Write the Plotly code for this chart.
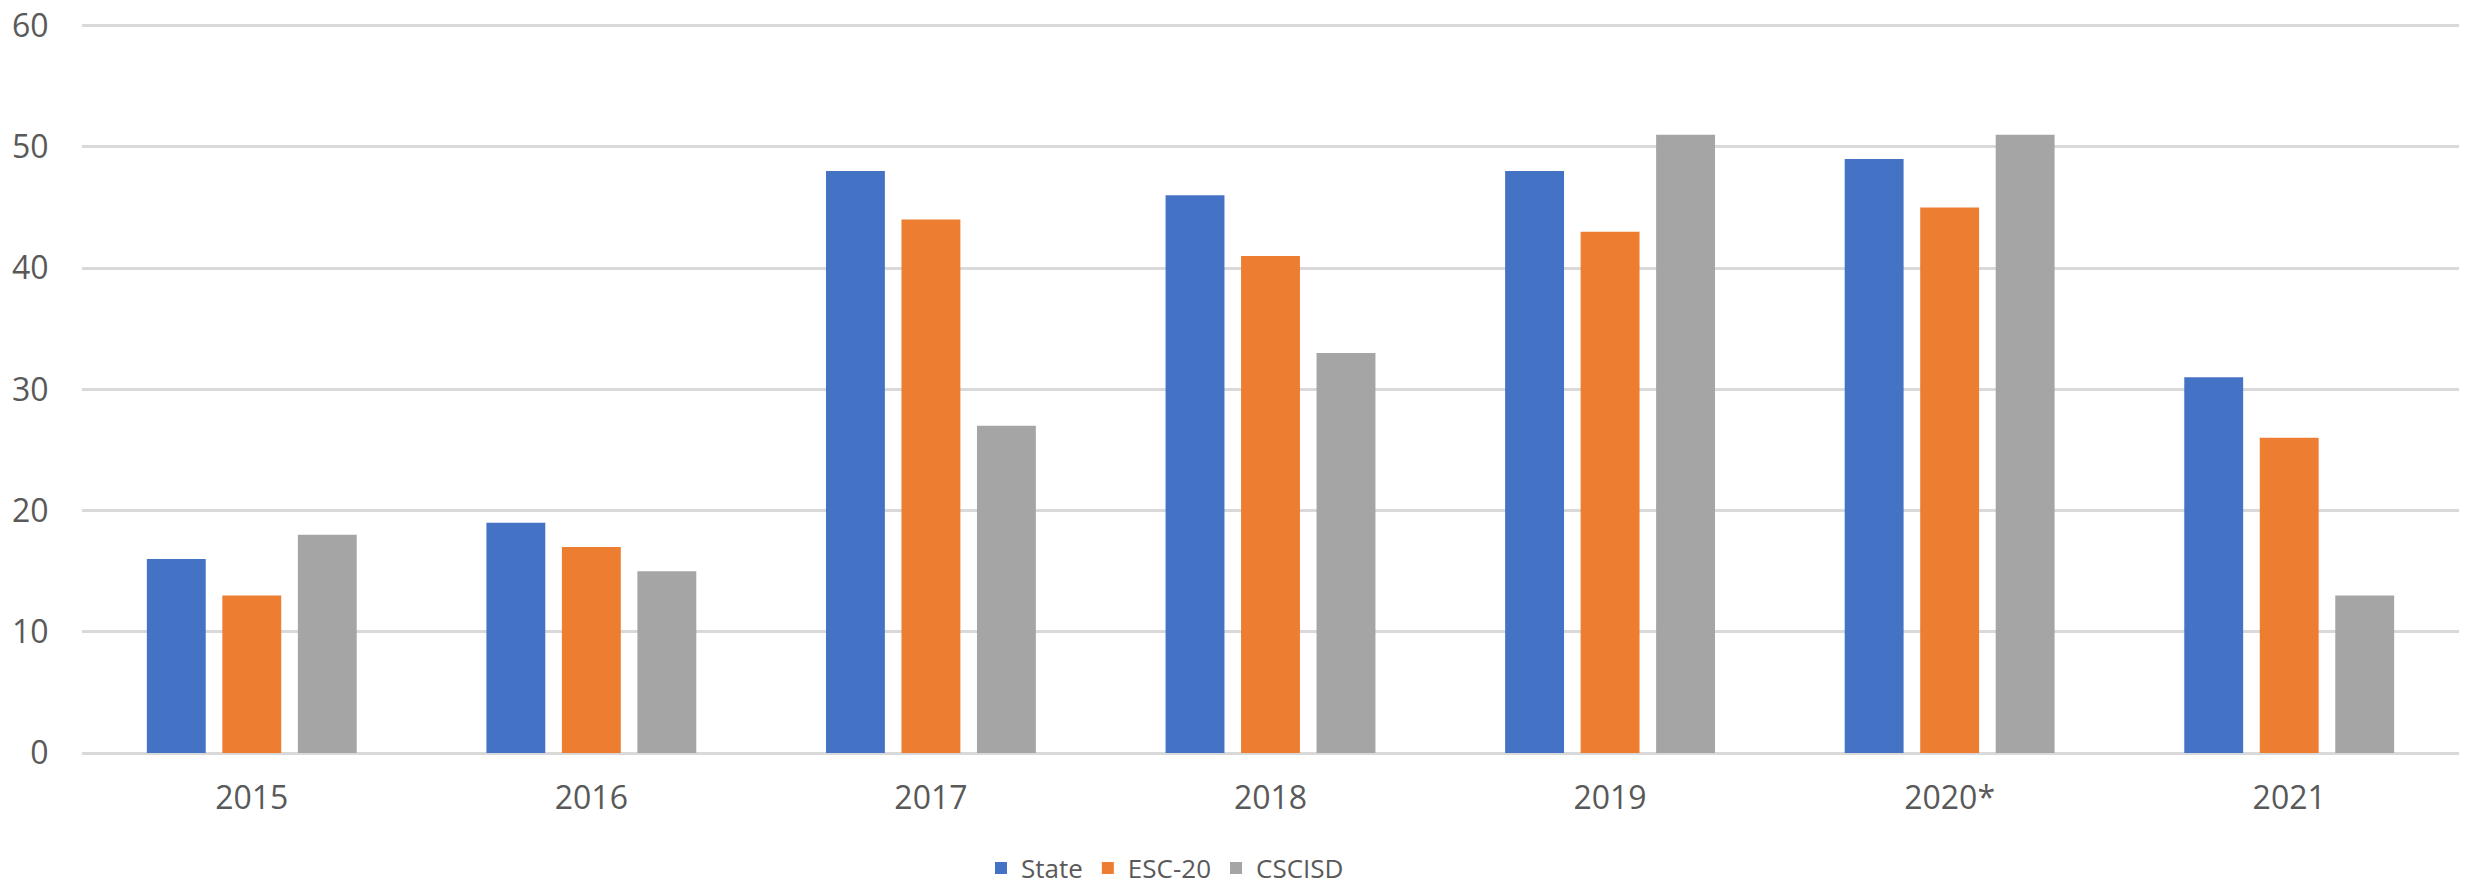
import plotly.graph_objects as go

years = ["2015", "2016", "2017", "2018", "2019", "2020*", "2021"]
state = [16, 19, 48, 46, 48, 49, 31]
esc20 = [13, 17, 44, 41, 43, 45, 26]
cscisd = [18, 15, 27, 33, 51, 51, 13]

series = [("State", state, "#4472C4"), ("ESC-20", esc20, "#ED7D31"), ("CSCISD", cscisd, "#A5A5A5")]

fig = go.Figure()
for name, vals, color in series:
    fig.add_trace(go.Bar(x=years, y=vals, name=name, marker=dict(color=color, line=dict(width=0))))

font = dict(family="Open Sans, Noto Sans, sans-serif", size=32, color="#595959")
legend_font = dict(family="Open Sans, Noto Sans, sans-serif", size=26, color="#595959")

W, H = 2466, 888
L, R, T, B = 82, 7, 22, 135
plot_h = H - T - B
fig.update_layout(
    width=W, height=H,
    margin=dict(l=L, r=R, t=T, b=B, pad=0, autoexpand=False),
    paper_bgcolor="white", plot_bgcolor="white",
    barmode="group", bargap=0.333, bargroupgap=0.22,
    font=font,
    showlegend=True,
    legend=dict(orientation="h", x=(1165 - L) / (W - L - R), xanchor="center",
                y=-(868 - (H - B)) / plot_h, yanchor="middle",
                font=legend_font, itemwidth=30, traceorder="normal",
                bgcolor="rgba(0,0,0,0)"),
    xaxis=dict(showgrid=False, showline=False, ticks="outside", ticklen=17, tickcolor="rgba(0,0,0,0)",
               tickfont=font, automargin=False),
    yaxis=dict(range=[0, 60.3], dtick=10, showgrid=True, gridcolor="#D9D9D9", gridwidth=2.5,
               zeroline=True, zerolinecolor="#D9D9D9", zerolinewidth=2.5, showline=False,
               ticks="outside", ticklen=26, tickcolor="rgba(0,0,0,0)", tickfont=font,
               automargin=False, ticklabeloverflow="allow"),
)
fig.write_html("out.html", config={"displayModeBar": False},
               post_script="document.body.style.margin='0';document.body.style.overflow='hidden';")
